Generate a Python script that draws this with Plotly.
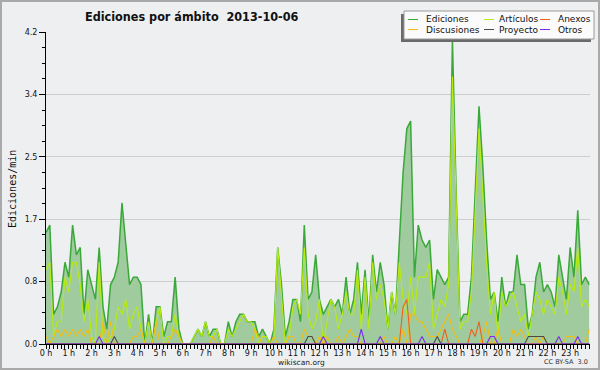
import plotly.graph_objects as go

# ---------------- data (edits per minute, one value every 10 minutes) ----------------
ediciones = [
    1.5, 1.6, 0.4, 0.5, 0.7, 1.1, 0.9, 1.6, 1.2, 1.3, 0.4, 1.0,
    0.8, 0.6, 1.3, 0.5, 0.2, 0.8, 0.9, 1.1, 1.9, 1.3, 0.8, 0.9,
    0.9, 0.8, 0.0, 0.4, 0.0, 0.5, 0.5, 0.1, 0.3, 0.3, 0.9, 0.2,
    0.0, 0.0, 0.0, 0.1, 0.2, 0.1, 0.3, 0.1, 0.2, 0.2, 0.0, 0.0,
    0.3, 0.1, 0.3, 0.4, 0.4, 0.3, 0.3, 0.3, 0.1, 0.2, 0.1, 0.0,
    0.2, 1.3, 0.8, 0.1, 0.3, 0.6, 0.6, 0.3, 1.6, 0.6, 0.7, 1.2,
    0.6, 0.4, 0.5, 0.6, 0.5, 0.6, 0.4, 0.9, 0.4, 0.6, 1.1, 0.4,
    1.0, 0.3, 1.2, 0.7, 1.1, 0.8, 0.2, 0.7, 0.4, 1.4, 2.3, 2.9,
    3.0, 0.9, 1.6, 1.4, 1.3, 1.4, 0.6, 1.0, 0.9, 0.8, 0.9, 4.1,
    2.0, 0.3, 0.4, 0.4, 0.9, 2.0, 3.2, 2.4, 1.4, 0.6, 0.7, 0.3,
    0.9, 0.5, 0.7, 0.7, 1.2, 0.8, 0.8, 0.2, 0.4, 0.9, 1.1, 0.7,
    0.8, 0.7, 0.5, 1.2, 0.9, 0.6, 1.3, 0.9, 1.8, 0.8, 0.9, 0.8,
]
articulos = [
    1.0, 1.1, 0.1, 0.3, 0.3, 0.9, 0.7, 1.1, 1.1, 0.8, 0.3, 0.6,
    0.1, 0.0, 1.1, 0.1, 0.0, 0.1, 0.2, 0.5, 0.4, 0.6, 0.2, 0.4,
    0.5, 0.2, 0.0, 0.3, 0.0, 0.3, 0.5, 0.0, 0.1, 0.1, 0.4, 0.1,
    0.0, 0.0, 0.0, 0.1, 0.2, 0.1, 0.3, 0.1, 0.1, 0.2, 0.0, 0.0,
    0.2, 0.1, 0.2, 0.3, 0.4, 0.3, 0.3, 0.2, 0.0, 0.1, 0.1, 0.0,
    0.1, 1.3, 0.7, 0.0, 0.1, 0.5, 0.6, 0.4, 1.3, 0.4, 0.2, 0.3,
    0.6, 0.0, 0.3, 0.6, 0.5, 0.2, 0.4, 0.7, 0.4, 0.4, 1.0, 0.2,
    0.9, 0.2, 1.1, 0.6, 0.8, 0.6, 0.2, 0.7, 0.4, 1.1, 0.6, 0.4,
    0.9, 0.4, 0.9, 0.9, 0.9, 1.1, 0.2, 0.4, 0.6, 0.5, 0.8, 3.6,
    1.9, 0.2, 0.3, 0.3, 0.7, 1.9, 2.9, 2.0, 1.1, 0.4, 0.7, 0.1,
    0.7, 0.5, 0.6, 0.7, 0.5, 0.3, 0.4, 0.1, 0.4, 0.7, 0.6, 0.4,
    0.6, 0.5, 0.4, 0.9, 0.7, 0.4, 0.8, 0.7, 1.3, 0.5, 0.6, 0.5,
]
discusiones = [
    0.1, 0.0, 0.1, 0.2, 0.1, 0.2, 0.1, 0.2, 0.1, 0.2, 0.1, 0.2,
    0.0, 0.0, 0.0, 0.3, 0.0, 0.3, 0.0, 0.0, 0.0, 0.0, 0.0, 0.1,
    0.1, 0.2, 0.0, 0.0, 0.0, 0.3, 0.0, 0.0, 0.0, 0.1, 0.2, 0.1,
    0.0, 0.0, 0.0, 0.0, 0.0, 0.0, 0.0, 0.0, 0.1, 0.0, 0.0, 0.0,
    0.0, 0.0, 0.0, 0.0, 0.0, 0.0, 0.0, 0.2, 0.1, 0.0, 0.0, 0.0,
    0.1, 0.0, 0.0, 0.0, 0.1, 0.1, 0.0, 0.0, 0.2, 0.1, 0.1, 0.0,
    0.1, 0.0, 0.1, 0.0, 0.0, 0.1, 0.0, 0.1, 0.2, 0.1, 0.1, 0.0,
    0.0, 0.0, 0.0, 0.0, 0.0, 0.1, 0.0, 0.0, 0.1, 0.0, 0.2, 0.0,
    0.4, 0.4, 0.3, 0.3, 0.2, 0.1, 0.1, 0.1, 0.2, 0.3, 0.4, 0.2,
    0.1, 0.0, 0.0, 0.0, 0.0, 0.0, 0.0, 0.1, 0.3, 0.0, 0.0, 0.2,
    0.0, 0.0, 0.0, 0.2, 0.1, 0.2, 0.1, 0.0, 0.0, 0.1, 0.0, 0.1,
    0.0, 0.0, 0.0, 0.0, 0.0, 0.1, 0.1, 0.1, 0.0, 0.0, 0.0, 0.2,
]
anexos = [
    0.0, 0.0, 0.0, 0.0, 0.0, 0.0, 0.0, 0.0, 0.0, 0.0, 0.0, 0.0,
    0.0, 0.0, 0.0, 0.0, 0.0, 0.0, 0.0, 0.0, 0.0, 0.0, 0.0, 0.0,
    0.0, 0.0, 0.0, 0.0, 0.0, 0.0, 0.0, 0.0, 0.0, 0.0, 0.0, 0.0,
    0.0, 0.0, 0.0, 0.0, 0.0, 0.0, 0.0, 0.0, 0.0, 0.0, 0.0, 0.0,
    0.0, 0.0, 0.0, 0.0, 0.0, 0.0, 0.0, 0.0, 0.0, 0.0, 0.0, 0.0,
    0.0, 0.0, 0.0, 0.0, 0.0, 0.0, 0.0, 0.0, 0.0, 0.0, 0.0, 0.0,
    0.0, 0.0, 0.0, 0.0, 0.0, 0.0, 0.0, 0.0, 0.0, 0.0, 0.0, 0.0,
    0.0, 0.0, 0.0, 0.0, 0.0, 0.0, 0.0, 0.0, 0.0, 0.0, 0.5, 0.6,
    0.0, 0.0, 0.0, 0.0, 0.0, 0.0, 0.0, 0.0, 0.0, 0.2, 0.0, 0.0,
    0.0, 0.0, 0.0, 0.0, 0.2, 0.1, 0.3, 0.0, 0.0, 0.0, 0.0, 0.0,
    0.0, 0.0, 0.0, 0.0, 0.0, 0.0, 0.0, 0.0, 0.0, 0.0, 0.0, 0.0,
    0.0, 0.0, 0.0, 0.0, 0.0, 0.0, 0.0, 0.0, 0.0, 0.0, 0.0, 0.0,
]
proyecto = [
    0.0, 0.0, 0.0, 0.0, 0.0, 0.0, 0.0, 0.0, 0.0, 0.0, 0.0, 0.0,
    0.0, 0.0, 0.0, 0.0, 0.0, 0.0, 0.1, 0.0, 0.0, 0.0, 0.0, 0.0,
    0.0, 0.0, 0.0, 0.0, 0.0, 0.0, 0.0, 0.0, 0.0, 0.0, 0.0, 0.0,
    0.0, 0.0, 0.0, 0.0, 0.0, 0.0, 0.0, 0.0, 0.0, 0.0, 0.0, 0.0,
    0.0, 0.0, 0.0, 0.0, 0.0, 0.0, 0.0, 0.0, 0.0, 0.0, 0.0, 0.0,
    0.0, 0.0, 0.0, 0.0, 0.0, 0.0, 0.0, 0.0, 0.0, 0.1, 0.1, 0.0,
    0.0, 0.0, 0.0, 0.0, 0.0, 0.0, 0.0, 0.0, 0.0, 0.0, 0.0, 0.0,
    0.0, 0.0, 0.0, 0.0, 0.0, 0.0, 0.0, 0.0, 0.0, 0.0, 0.0, 0.0,
    0.0, 0.0, 0.0, 0.0, 0.0, 0.0, 0.0, 0.1, 0.0, 0.0, 0.0, 0.0,
    0.0, 0.0, 0.0, 0.0, 0.0, 0.0, 0.0, 0.0, 0.0, 0.0, 0.0, 0.0,
    0.0, 0.0, 0.0, 0.0, 0.0, 0.0, 0.0, 0.1, 0.1, 0.1, 0.1, 0.1,
    0.0, 0.0, 0.0, 0.0, 0.0, 0.0, 0.0, 0.0, 0.0, 0.0, 0.0, 0.0,
]
otros = [
    0.0, 0.0, 0.0, 0.0, 0.0, 0.0, 0.0, 0.0, 0.0, 0.0, 0.0, 0.0,
    0.0, 0.0, 0.1, 0.0, 0.0, 0.0, 0.0, 0.0, 0.0, 0.0, 0.0, 0.0,
    0.0, 0.0, 0.0, 0.0, 0.0, 0.0, 0.0, 0.0, 0.0, 0.0, 0.0, 0.0,
    0.0, 0.0, 0.0, 0.0, 0.0, 0.0, 0.0, 0.0, 0.0, 0.0, 0.0, 0.0,
    0.0, 0.0, 0.0, 0.0, 0.0, 0.0, 0.0, 0.0, 0.0, 0.0, 0.0, 0.0,
    0.0, 0.0, 0.0, 0.0, 0.0, 0.0, 0.0, 0.0, 0.0, 0.0, 0.0, 0.0,
    0.0, 0.1, 0.0, 0.0, 0.0, 0.0, 0.0, 0.0, 0.0, 0.0, 0.0, 0.2,
    0.0, 0.0, 0.0, 0.0, 0.1, 0.0, 0.0, 0.0, 0.0, 0.0, 0.0, 0.0,
    0.0, 0.0, 0.0, 0.1, 0.0, 0.0, 0.0, 0.0, 0.0, 0.0, 0.0, 0.0,
    0.0, 0.0, 0.0, 0.0, 0.0, 0.0, 0.0, 0.0, 0.0, 0.1, 0.1, 0.0,
    0.0, 0.0, 0.0, 0.0, 0.0, 0.0, 0.0, 0.0, 0.0, 0.0, 0.0, 0.0,
    0.0, 0.0, 0.0, 0.1, 0.0, 0.0, 0.0, 0.0, 0.1, 0.0, 0.0, 0.0,
]

series_names = ["Ediciones", "Artículos", "Discusiones", "Anexos", "Proyecto", "Otros"]
series_colors = ["#3aa93a", "#b9ec0c", "#f2be12", "#f0601c", "#4a4a4a", "#7d2be8"]
legend_rows = [["Ediciones", "Artículos", "Anexos"], ["Discusiones", "Proyecto", "Otros"]]

title_text = "Ediciones por ámbito  2013-10-06"
y_title = "Ediciones/min"
step_minutes = 10

# ---------------- layout geometry ----------------
W, H = 600, 370
ML, MR, MT, MB = 46, 10, 32, 26
PW, PH = W - ML - MR, H - MT - MB
BG = "#eeeff1"


def xp(px):
    return (px - ML) / PW


def yp(py):
    return (MT + PH - py) / PH


hours = [i * step_minutes / 60 for i in range(len(ediciones))]
values = [ediciones, articulos, discusiones, anexos, proyecto, otros]
color_of = dict(zip(series_names, series_colors))

fig = go.Figure()
for name, col, vals in zip(series_names, series_colors, values):
    if name == "Ediciones":
        fig.add_trace(go.Scatter(x=hours, y=vals, name=name, mode="lines",
                                 line=dict(color=col, width=1.5),
                                 fill="tozeroy", fillcolor="#9fcb9f",
                                 showlegend=False))
    else:
        fig.add_trace(go.Scatter(x=hours, y=vals, name=name, mode="lines",
                                 line=dict(color=col, width=1.1),
                                 showlegend=False))

shapes = []
annotations = []

# outer frame
shapes.append(dict(type="rect", xref="paper", yref="paper",
                   x0=xp(1), x1=xp(W - 1), y0=yp(H - 1), y1=yp(1),
                   line=dict(color="#a9a9a9", width=2), fillcolor="rgba(0,0,0,0)", layer="above"))

# legend box with shadow
shapes.append(dict(type="rect", xref="paper", yref="paper",
                   x0=xp(401), x1=xp(591), y0=yp(42), y1=yp(14),
                   line=dict(width=0), fillcolor="#6a6a6a", layer="above"))
shapes.append(dict(type="rect", xref="paper", yref="paper",
                   x0=xp(404), x1=xp(594), y0=yp(39), y1=yp(11),
                   line=dict(color="#9a9a9a", width=1), fillcolor="#fbfbfb", layer="above"))
col_line_x = [408, 484, 540]
col_text_x = [424, 497, 556]
row_y = [19.5, 29.5]
for r, row in enumerate(legend_rows):
    for c, name in enumerate(row):
        shapes.append(dict(type="line", xref="paper", yref="paper",
                           x0=xp(col_line_x[c]), x1=xp(col_line_x[c] + 10),
                           y0=yp(row_y[r]), y1=yp(row_y[r]),
                           line=dict(color=color_of[name], width=1), layer="above"))
        annotations.append(dict(text=name, xref="paper", yref="paper",
                                x=xp(col_text_x[c]), y=yp(row_y[r]),
                                xanchor="left", yanchor="middle", showarrow=False,
                                font=dict(family="DejaVu Sans", size=9, color="#111")))

# y title
annotations.append(dict(text=y_title, xref="paper", yref="paper",
                        x=xp(12), y=yp(189), textangle=-90,
                        xanchor="center", yanchor="middle", showarrow=False,
                        font=dict(family="DejaVu Sans Mono", size=10, color="#111")))
# footer texts
annotations.append(dict(text="wikiscan.org", xref="paper", yref="paper",
                        x=xp(301), y=yp(362), xanchor="center", yanchor="middle",
                        showarrow=False, font=dict(family="DejaVu Sans", size=7.5, color="#222")))
annotations.append(dict(text="CC BY-SA  3.0", xref="paper", yref="paper",
                        x=xp(590), y=yp(362), xanchor="right", yanchor="middle",
                        showarrow=False, font=dict(family="DejaVu Sans", size=6.5, color="#333")))

fig.update_layout(
    width=W, height=H,
    margin=dict(l=ML, r=MR, t=MT, b=MB, pad=0),
    paper_bgcolor=BG, plot_bgcolor=BG,
    title=dict(text=title_text, x=xp(85), xref="paper", xanchor="left",
               y=1 - 17 / H, yref="container", yanchor="middle",
               font=dict(family="DejaVu Sans Condensed, Liberation Sans, DejaVu Sans",
                         size=12.5, color="#111", weight="bold")),
    shapes=shapes,
    annotations=annotations,
    showlegend=False,
)

fig.update_xaxes(
    range=[0, 23.87], tickmode="linear", tick0=0, dtick=1, ticksuffix=" h",
    ticks="outside", ticklen=4, tickwidth=1, tickcolor="#000",
    ticklabelstandoff=-3,
    showline=True, linecolor="#000", linewidth=1, showgrid=False, zeroline=False,
    tickfont=dict(family="DejaVu Sans", size=8, color="#111"),
    minor=dict(tickmode="linear", tick0=0, dtick=1 / 6, ticks="outside",
               ticklen=4, tickwidth=1, tickcolor="#000", showgrid=False),
    fixedrange=True,
)
fig.update_yaxes(
    range=[0, 4.2], tickmode="linear", tick0=0, dtick=0.84, tickformat=".1f",
    ticks="outside", ticklen=6, tickwidth=1, tickcolor="#000",
    showline=True, linecolor="#000", linewidth=1,
    showgrid=True, gridcolor="#cdcdcd", gridwidth=1, zeroline=False,
    tickfont=dict(family="DejaVu Sans", size=8, color="#111"),
    minor=dict(tickmode="linear", tick0=0, dtick=0.21, ticks="outside",
               ticklen=3, tickwidth=1, tickcolor="#000", showgrid=False),
    fixedrange=True,
)

fig.write_html(
    "out.html",
    config={"displayModeBar": False},
    post_script="document.body.style.margin='0';document.body.style.overflow='hidden';",
)
